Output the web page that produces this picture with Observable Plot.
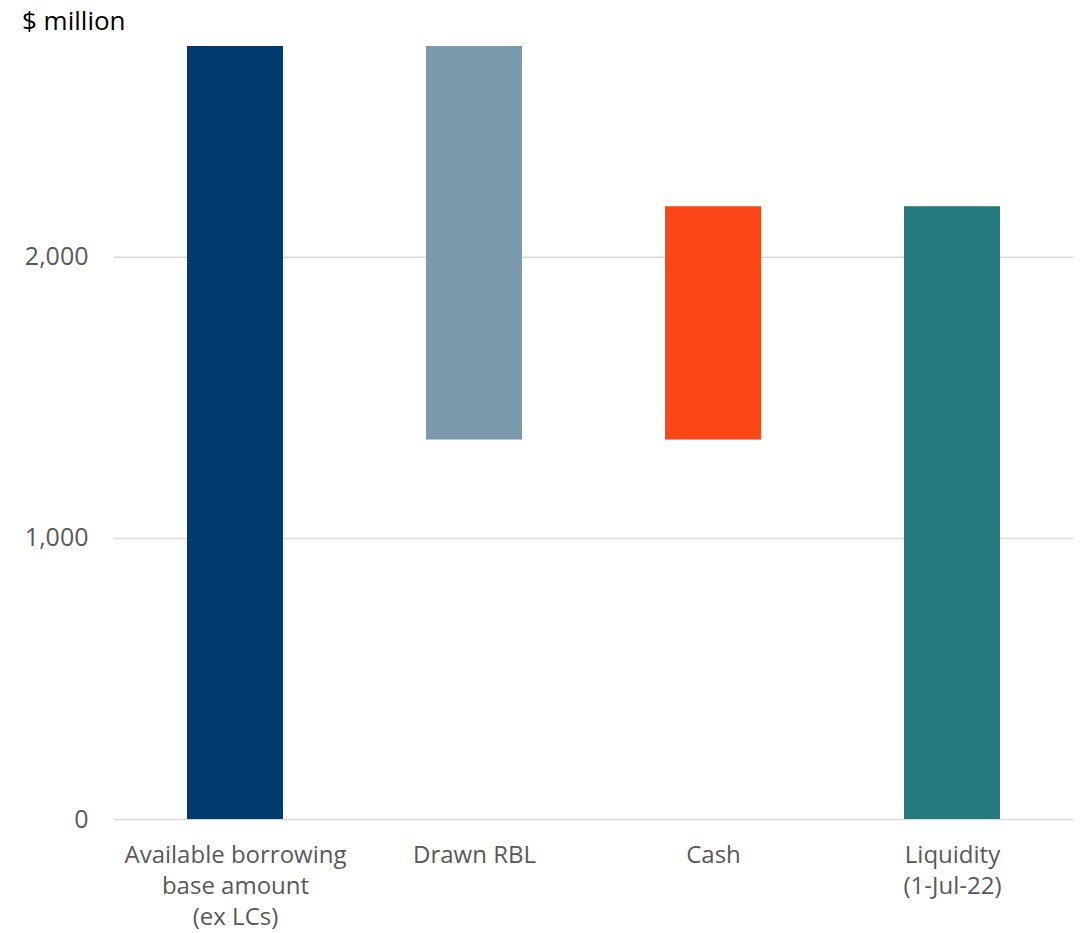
<!DOCTYPE html>
<html>
<head>
<meta charset="utf-8">
<script src="https://cdn.jsdelivr.net/npm/d3@7"></script>
<script src="https://cdn.jsdelivr.net/npm/@observablehq/plot@0.6"></script>
<style>
  html, body { margin: 0; padding: 0; background: #fff; }
  #wrap { position: relative; width: 1082px; height: 933px; font-family: "Open Sans", sans-serif; }
  #title { position: absolute; left: 22px; top: 2px; font-size: 26px; color: #000; }
</style>
</head>
<body>
<div id="wrap">
  <div id="title">$ million</div>
  <div id="chart"></div>
</div>
<script>
const categories = ["Available borrowing\nbase amount\n(ex LCs)", "Drawn RBL", "Cash", "Liquidity\n(1-Jul-22)"];
const barLow = [0, 1350, 1350, 0];
const barHigh = [2750, 2750, 2180, 2180];
const barColors = ["#023b6e", "#7b99ad", "#fb4717", "#267a7d"];
const yTicks = [0, 1000, 2000];

const data = categories.map((c, i) => ({ cat: c, low: barLow[i], high: barHigh[i], color: barColors[i] }));

const chart = Plot.plot({
  width: 1082,
  height: 933,
  marginLeft: 114,
  marginRight: 9,
  marginTop: 46,
  marginBottom: 114,
  style: { fontFamily: "Open Sans, sans-serif", fontSize: "24px", color: "#595959", background: "#fff" },
  x: { domain: categories, paddingInner: 0.6, paddingOuter: 0.3, label: null },
  y: { domain: [0, 2750], label: null },
  marks: [
    Plot.ruleY(yTicks, { stroke: "#d9d9d9", strokeWidth: 1.5 }),
    Plot.barY(data, { x: "cat", y1: "low", y2: "high", fill: "color" }),
    Plot.axisY({ ticks: yTicks, tickSize: 0, tickPadding: 26, tickFormat: d3.format(","), fontSize: 25, fill: "#595959", label: null }),
    Plot.axisX({ tickSize: 0, tickPadding: 21, fontSize: 24, fill: "#595959", lineHeight: 1.3, label: null })
  ]
});
document.getElementById("chart").appendChild(chart);
</script>
</body>
</html>
